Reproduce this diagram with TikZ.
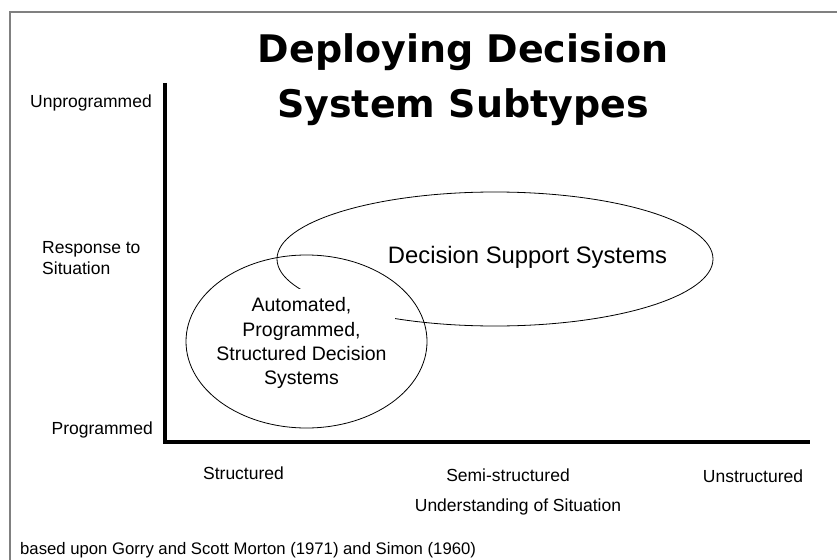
\documentclass[tikz,border=0pt]{standalone}
\usepackage{fontspec}
\setmainfont{Liberation Sans}
\newfontfamily\titlefont{DejaVu Sans}
\usetikzlibrary{shapes.geometric}
\begin{document}
\begin{tikzpicture}[x=1pt,y=-1pt,
        lbl/.style={inner sep=0pt,font=\fontsize{17.5}{21}\selectfont},
        ring/.style={ellipse,draw,line width=0.8pt,inner sep=0pt}]
        \useasboundingbox (0,0) rectangle (837,559);
        \draw[black!50,line width=1.5pt] (10,12) rectangle (850,570);
        \node[inner sep=0pt,align=center,font=\titlefont\bfseries\fontsize{38}{55}\selectfont] (title) at (463,79.5) {Deploying Decision\\System Subtypes};
        \node[lbl,anchor=base east] (unprog) at (152,108) {Unprogrammed};
        \node[lbl,anchor=west,align=left] (resp) at (42,258.3) {Response to\\Situation};
        \node[lbl,anchor=base east] (prog) at (153,434) {Programmed};
        \node[lbl,anchor=base] (struct) at (243.5,479) {Structured};
        \node[lbl,anchor=base] (semi) at (508,481) {Semi-structured};
        \node[lbl,anchor=base] (unstruct) at (753,482) {Unstructured};
        \node[lbl,anchor=base] (understand) at (518,511) {Understanding of Situation};
        \node[inner sep=0pt,anchor=base west,font=\fontsize{16.7}{20}\selectfont] (source) at (20,554) {based upon Gorry and Scott Morton (1971) and Simon (1960)};
        % axes
        \coordinate (ytop) at (165,83);
        \coordinate (xend) at (810,442);
        \draw[line width=3.6pt] (ytop) |- (xend);
        \node[ring,minimum width=436pt,minimum height=134pt] (dss) at (495,259) {};
        \node[lbl,anchor=base,font=\fontsize{23.8}{28}\selectfont] (dsstext) at (527.5,263) {Decision Support Systems};
        \node[fill=white,inner sep=8.5pt,align=center,font=\fontsize{19.5}{24.3}\selectfont] (apstext) at (301.5,343.4) {Automated,\\Programmed,\\Structured Decision\\Systems};
        \node[ring,minimum width=241pt,minimum height=173pt] (aps) at (306.5,341.5) {};
    \end{tikzpicture}
\end{document}
